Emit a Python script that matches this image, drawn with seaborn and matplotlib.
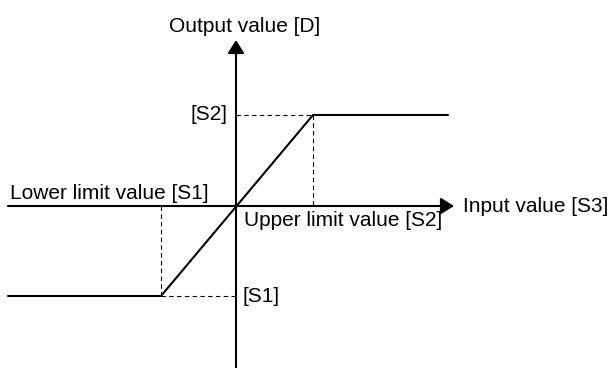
import matplotlib
matplotlib.use("Agg")
from matplotlib import pyplot as plt
import seaborn as sns
import pandas as pd

sns.set_style("white")
plt.rcParams["font.family"] = ["Liberation Sans", "DejaVu Sans"]
plt.rcParams["text.color"] = "black"

# limiter characteristic (diagram units, origin at axis crossing)
input_points = [-228, -75, 77, 212]
output_points = [-90, -90, 91, 91]
lower_in, upper_in = -75, 77
lower_out, upper_out = -90, 91

curve = pd.DataFrame({"input": input_points, "output": output_points})

fig = plt.figure(figsize=(6.15, 3.68), dpi=100)
ax = fig.add_axes([0, 0, 1, 1])

sns.lineplot(data=curve, x="input", y="output", color="black", linewidth=1.5, ax=ax)

# dashed guide lines to the axes
dash = dict(color="black", linewidth=0.8, linestyle=(0, (4, 3)))
ax.plot([lower_in, lower_in], [0, lower_out], **dash)
ax.plot([lower_in, 0], [lower_out, lower_out], **dash)
ax.plot([0, upper_in], [upper_out, upper_out], **dash)
ax.plot([upper_in, upper_in], [upper_out, 0], **dash)

# axes with arrowheads
arrow = dict(arrowstyle="-|>,head_length=0.4,head_width=0.25", color="black",
             lw=1.5, shrinkA=0, shrinkB=0, mutation_scale=20)
ax.annotate("", xy=(218, 0), xytext=(-228, 0), arrowprops=arrow)
ax.annotate("", xy=(0, 166), xytext=(0, -165), arrowprops=arrow)

fs = 15
ax.text(9, 180, "Output value [D]", ha="center", va="center", fontsize=fs)
ax.text(-8, upper_out, "[S2]", ha="right", va="center", fontsize=fs)
ax.text(6, lower_out, "[S1]", ha="left", va="center", fontsize=fs)
ax.text(-226, 3, "Lower limit value [S1]", ha="left", va="bottom", fontsize=fs)
ax.text(8, -14, "Upper limit value [S2]", ha="left", va="center", fontsize=fs)
ax.text(227, 0, "Input value [S3]", ha="left", va="center", fontsize=fs)

ax.set_xlim(-236, 379)
ax.set_ylim(-162, 206)
ax.set_axis_off()

fig.savefig("out.png", dpi=100)
